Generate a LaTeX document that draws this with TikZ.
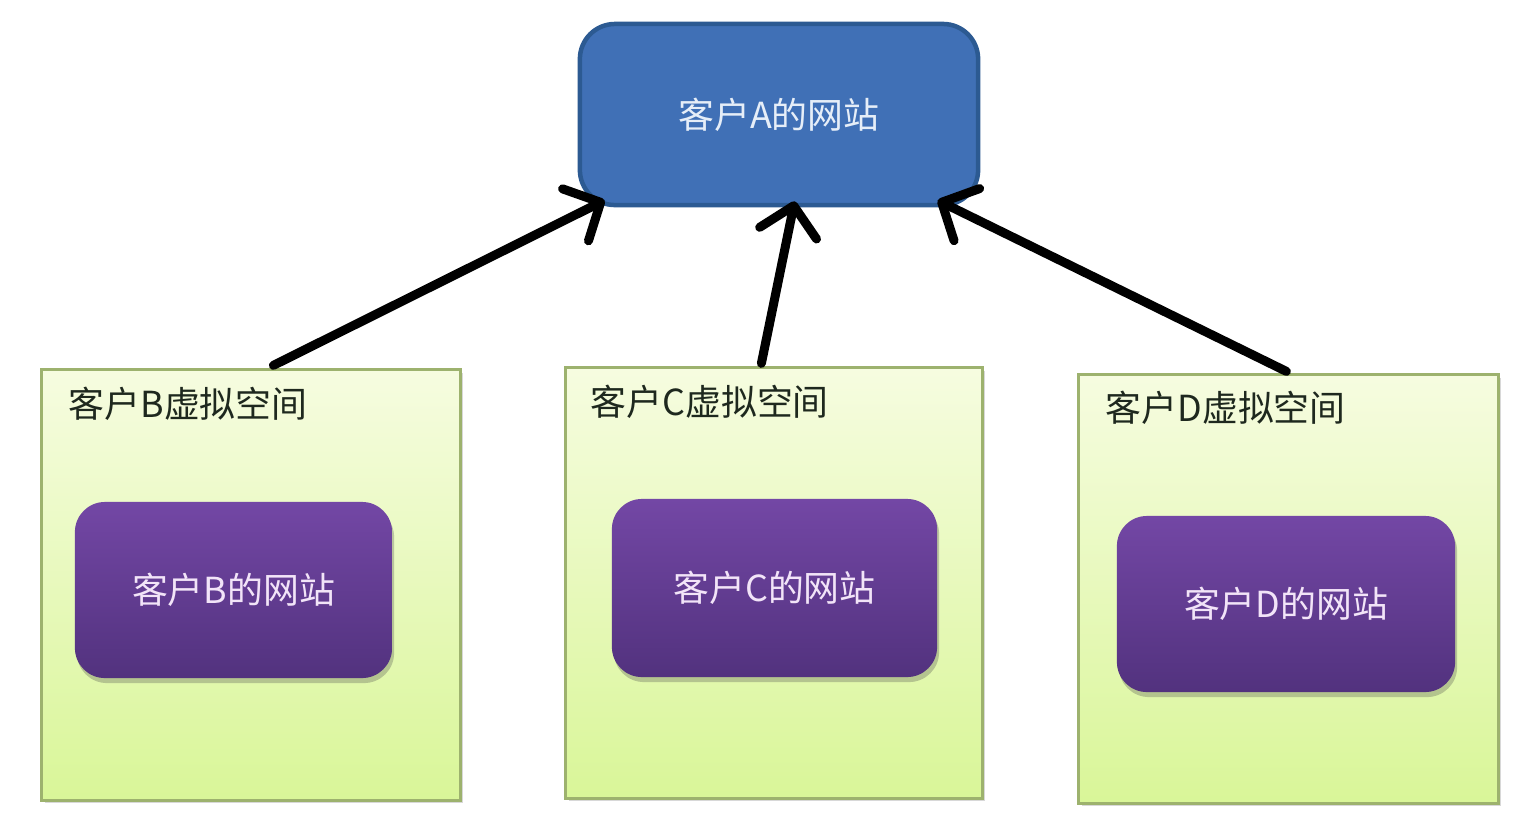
\documentclass[tikz,border=0pt]{standalone}
\usepackage{fontspec}
\setmainfont{Noto Sans CJK SC}
\usetikzlibrary{arrows.meta,shadows,calc}
\definecolor{blueFill}{HTML}{4070B6}
\definecolor{blueEdge}{HTML}{2C5A92}
\definecolor{blueText}{HTML}{E6EEF8}
\definecolor{greenTop}{HTML}{F6FCE0}
\definecolor{greenBot}{HTML}{D9F698}
\definecolor{greenEdge}{HTML}{9DB26E}
\definecolor{purpTop}{HTML}{7347A5}
\definecolor{purpBot}{HTML}{52327E}
\definecolor{purpText}{HTML}{F2E4F8}
\definecolor{labelText}{HTML}{1E281E}
\tikzset{
  sitea/.style={draw=blueEdge, line width=0.045cm, fill=blueFill, rounded corners=0.35cm,
    text=blueText, font=\fontsize{10.2pt}{12pt}\selectfont},
  space/.style={draw=greenEdge, line width=0.03cm, top color=greenTop, bottom color=greenBot,
    drop shadow={shadow xshift=0.03cm, shadow yshift=-0.03cm, opacity=0.25, fill=black!60}},
  site/.style={draw=none, rounded corners=0.3cm, top color=purpTop, bottom color=purpBot,
    text=purpText, font=\fontsize{10.2pt}{12pt}\selectfont,
    drop shadow={shadow xshift=0.02cm, shadow yshift=-0.05cm, opacity=0.3, fill=black!70}},
  splabel/.style={anchor=west, text=labelText, inner sep=0pt, font=\fontsize{10.2pt}{12pt}\selectfont},
  link/.style={line width=0.09cm, black, line cap=round,
    -{Straight Barb[length=0.28cm, width=0.58cm, line cap=round, line join=round]}}
}
\begin{document}
\begin{tikzpicture}[x=0.01cm, y=-0.01cm]
\useasboundingbox (0,0) rectangle (1530,814);
\fill[white] (0,0) rectangle (1530,814);
% green virtual spaces
\node[space, minimum width=4.18cm, minimum height=4.30cm] (gB) at (251,585) {};
\node[space, minimum width=4.16cm, minimum height=4.30cm] (gC) at (774,583) {};
\node[space, minimum width=4.19cm, minimum height=4.28cm] (gD) at (1288.5,589) {};
% labels
\node[splabel] (lB) at (68,404) {客户B虚拟空间};
\node[splabel] (lC) at (590,402) {客户C虚拟空间};
\node[splabel] (lD) at (1105,408) {客户D虚拟空间};
% purple sites
\node[site, minimum width=3.17cm, minimum height=1.76cm] (pB) at (233.5,590) {客户B的网站};
\node[site, minimum width=3.25cm, minimum height=1.78cm] (pC) at (774.5,588) {客户C的网站};
\node[site, minimum width=3.38cm, minimum height=1.76cm] (pD) at (1286,604) {客户D的网站};
% top site
\node[sitea, minimum width=3.98cm, minimum height=1.81cm] (A) at (779,114.5) {客户A的网站};
% connector end points
\coordinate (sB) at ($(gB.north west)+(233,-3)$);
\coordinate (sC) at ($(gC.north west)+(197,-3)$);
\coordinate (sD) at ($(gD.north west)+(209,-2)$);
\coordinate (eB) at ($(A.south west)+(27,-7)$);
\coordinate (eC) at ($(A.south west)+(217,-6)$);
\coordinate (eD) at ($(A.south west)+(360,-7)$);
\draw[link] (sB) -- (eB);
\draw[link] (sC) -- (eC);
\draw[link] (sD) -- (eD);
\end{tikzpicture}
\end{document}
